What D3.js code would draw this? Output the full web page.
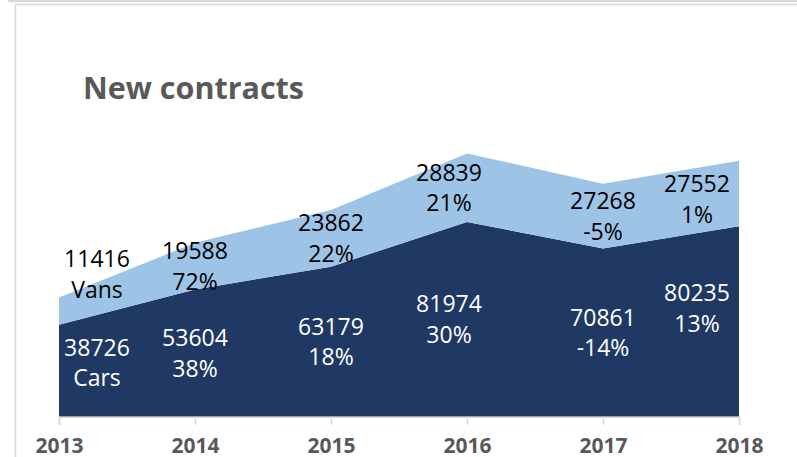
<!DOCTYPE html>
<html>
<head>
<meta charset="utf-8">
<script src="https://cdn.jsdelivr.net/npm/d3@7"></script>
<style>
  html, body { margin: 0; padding: 0; background: #fff; }
  svg { display: block; }
</style>
</head>
<body>
<script>
// data
var years = ["2013", "2014", "2015", "2016", "2017", "2018"];
var cars = [38726, 53604, 63179, 81974, 70861, 80235];
var vans = [11416, 19588, 23862, 28839, 27268, 27552];
var series_names = ["Cars", "Vans"];
var title = "New contracts";

// look
var svg_width = 797, svg_height = 457;
var cars_fill = "#203864", vans_fill = "#9dc3e6";
var frame_stroke = "#d9d9d9";
var axis_stroke = "#d9d9d9";
var title_fill = "#595959", year_fill = "#595959";
var font = "'Open Sans', 'Noto Sans', sans-serif";
var label_font_size = 23, line_gap = 30.5;

// label nudges (Excel keeps edge labels inside the plot)
var label_dx = [38, 0, 0, -18, 0, -42];
var cars_dy = [-8, 0, 0, 0, 0, -13];
var vans_dy = [-37, 0, 0, 0, 0, 6];

var rows = years.map(function(yr, i) { return { year: yr, cars: cars[i], vans: vans[i] }; });
var stacked = d3.stack().keys(["cars", "vans"])(rows);

var x = d3.scalePoint().domain(years).range([59, 739]);
var y = d3.scaleLinear().domain([0, 120000]).range([416.7, 131.7]);

var svg = d3.select("body").append("svg")
  .attr("width", svg_width).attr("height", svg_height);

// chart frame
svg.append("line").attr("x1", 8).attr("x2", svg_width).attr("y1", 1).attr("y2", 1)
  .attr("stroke", frame_stroke).attr("stroke-width", 2.5);
svg.append("path")
  .attr("d", "M15.5," + svg_height + "V4.5H" + svg_width)
  .attr("fill", "none").attr("stroke", frame_stroke).attr("stroke-width", 1.5);

svg.append("text").text(title)
  .attr("x", 83).attr("y", 98.5)
  .attr("textLength", 221).attr("lengthAdjust", "spacingAndGlyphs")
  .style("font-family", font).style("font-weight", "bold").style("font-size", "30px")
  .attr("fill", title_fill);

var area = d3.area()
  .x(function(d) { return x(d.data.year); })
  .y0(function(d) { return y(d[0]); })
  .y1(function(d) { return y(d[1]); });

svg.append("g").selectAll("path").data(stacked).enter().append("path")
  .attr("d", area)
  .attr("fill", function(d) { return d.key === "cars" ? cars_fill : vans_fill; });

// axis
var axis = svg.append("g").attr("transform", "translate(0," + y(0) + ")")
  .call(d3.axisBottom(x).tickSize(8).tickPadding(13));
axis.select(".domain").attr("stroke", axis_stroke).attr("stroke-width", 1.5);
axis.selectAll(".tick line").attr("stroke", axis_stroke).attr("stroke-width", 1.5);
axis.selectAll(".tick text")
  .style("font-family", font).style("font-weight", "bold").style("font-size", "21px")
  .attr("fill", year_fill);

// data labels
function growth(vals, i) {
  var p = Math.round((vals[i] / vals[i - 1] - 1) * 100);
  return p + "%";
}

var labels = [];
stacked.forEach(function(s, si) {
  var vals = si === 0 ? cars : vans;
  var dys = si === 0 ? cars_dy : vans_dy;
  s.forEach(function(d, i) {
    labels.push({
      x: x(d.data.year) + label_dx[i],
      cy: (y(d[0]) + y(d[1])) / 2 + dys[i],
      lines: [String(vals[i]), i === 0 ? series_names[si] : growth(vals, i)],
      fill: si === 0 ? "#ffffff" : "#000000"
    });
  });
});

var lg = svg.append("g").selectAll("g").data(labels).enter().append("g");
lg.each(function(d) {
  var g = d3.select(this);
  d.lines.forEach(function(t, k) {
    var cy = d.cy + (k === 0 ? -line_gap / 2 : line_gap / 2);
    g.append("text").text(t)
      .attr("x", d.x).attr("y", cy + 0.36 * label_font_size)
      .attr("text-anchor", "middle")
      .style("font-family", font).style("font-size", label_font_size + "px")
      .attr("fill", d.fill);
  });
});
</script>
</body>
</html>
